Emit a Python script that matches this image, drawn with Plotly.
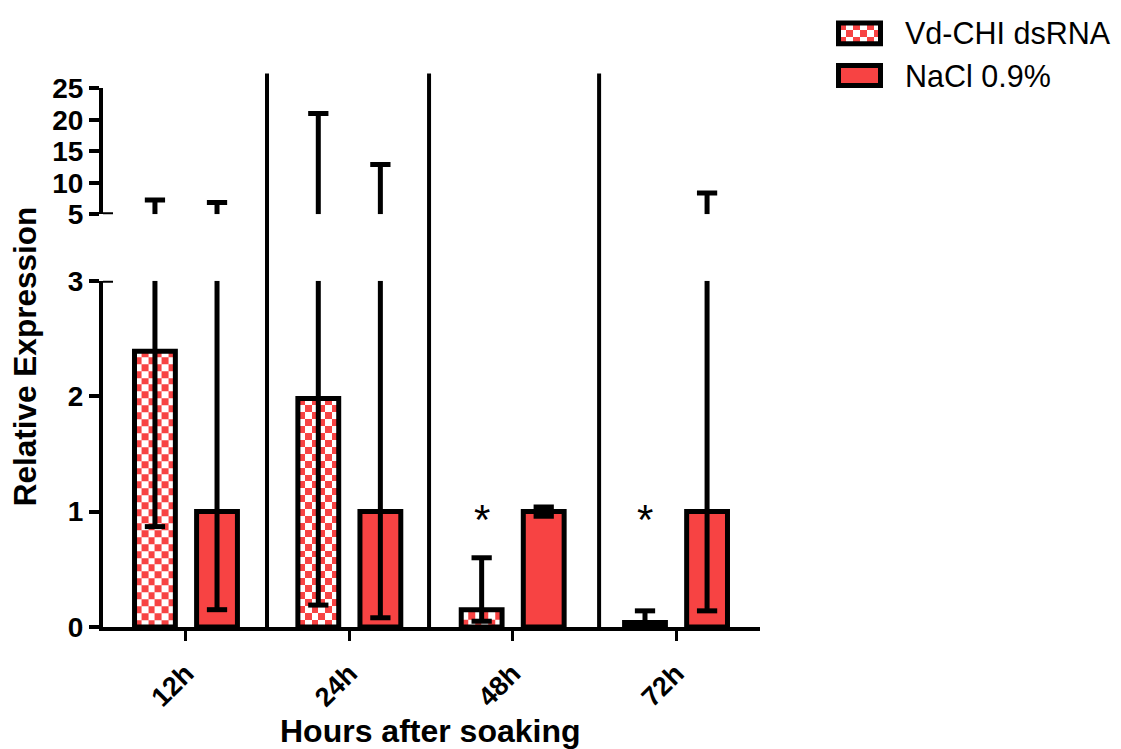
import plotly.graph_objects as go

# ---------------- data ----------------
categories = ["12h", "24h", "48h", "72h"]
dsrna_mean = [2.39, 1.98, 0.15, 0.04]
dsrna_low = [0.87, 0.19, 0.05, 0.0]
dsrna_high = [7.3, 21.0, 0.60, 0.14]
nacl_mean = [1.0, 1.0, 1.0, 1.0]
nacl_low = [0.15, 0.08, 0.96, 0.14]
nacl_high = [6.9, 12.9, 1.04, 8.4]
significance = ["", "", "*", "*"]
lower_ticks = [0, 1, 2, 3]
upper_ticks = [5, 10, 15, 20, 25]
separators = [0.496, 1.488, 2.529]

# ---------------- style ----------------
RED = "#F74343"
FONT = "Liberation Sans, Arial, sans-serif"
OFF = 0.19
BW = 0.25
CAP = 0.062
LOW_MAX, UP_MIN = 3, 5
CELL_Y = 0.06
NCOL = 6

# plot geometry (pixels -> paper)
W, H = 1121, 749
ML, MR, MT, MB = 103, 0, 10, 122
PW, PH = W - ML - MR, H - MT - MB
def px(x):
    return (x - ML) / PW
def py(y):
    return (H - MB - y) / PH

xg = list(range(len(categories)))
x_ds = [g - OFF for g in xg]
x_na = [g + OFF for g in xg]

fig = go.Figure()

# checkerboard fill for dsRNA bars (heatmaps drawn below bars)
for xc, m in zip(x_ds, dsrna_mean):
    nrow = max(1, int(round(m / CELL_Y)))
    xe = [xc - BW / 2 + BW * i / NCOL for i in range(NCOL + 1)]
    ye = [min(m, CELL_Y * j) for j in range(nrow + 1)]
    ye[-1] = m
    z = [[(i + j) % 2 for i in range(NCOL)] for j in range(nrow)]
    fig.add_trace(go.Heatmap(x=xe, y=ye, z=z, zmin=0, zmax=1,
                             colorscale=[[0, RED], [1, "white"]],
                             showscale=False, hoverinfo="skip",
                             xaxis="x", yaxis="y"))

fig.add_trace(go.Bar(x=x_ds, y=dsrna_mean, width=BW, name="Vd-CHI dsRNA",
                     marker=dict(color="rgba(0,0,0,0)",
                                 line=dict(color="black", width=5)),
                     xaxis="x", yaxis="y", showlegend=False))
fig.add_trace(go.Bar(x=x_na, y=nacl_mean, width=BW, name="NaCl 0.9%",
                     marker=dict(color=RED, line=dict(color="black", width=5)),
                     xaxis="x", yaxis="y", showlegend=False))

# error bars, split over the broken axis
lx, ly, ux, uy = [], [], [], []
for xs, lo, hi in ((x_ds, dsrna_low, dsrna_high), (x_na, nacl_low, nacl_high)):
    for xc, a, b in zip(xs, lo, hi):
        lx += [xc, xc, None]
        ly += [a, min(b, LOW_MAX), None]
        lx += [xc - CAP, xc + CAP, None]
        ly += [a, a, None]
        if b <= LOW_MAX:
            lx += [xc - CAP, xc + CAP, None]
            ly += [b, b, None]
        if b > UP_MIN:
            ux += [xc, xc, None, xc - CAP, xc + CAP, None]
            uy += [UP_MIN, b, None, b, b, None]

fig.add_trace(go.Scatter(x=lx, y=ly, mode="lines", line=dict(color="black", width=5),
                         xaxis="x", yaxis="y", showlegend=False, hoverinfo="skip",
                         cliponaxis=False))
fig.add_trace(go.Scatter(x=ux, y=uy, mode="lines", line=dict(color="black", width=5),
                         xaxis="x", yaxis="y2", showlegend=False, hoverinfo="skip",
                         cliponaxis=False))

# legend checker swatch
fig.add_trace(go.Heatmap(z=[[(i + j) % 2 for i in range(6)] for j in range(3)],
                         zmin=0, zmax=1, colorscale=[[0, RED], [1, "white"]],
                         showscale=False, hoverinfo="skip", xaxis="x3", yaxis="y3"))

tickfont = dict(family=FONT, size=28, color="black", weight="bold")
axis_common = dict(showline=True, linecolor="black", linewidth=4, ticks="outside",
                   ticklen=10, tickwidth=4, tickcolor="black", showgrid=False,
                   zeroline=False, tickfont=tickfont)

fig.update_layout(
    width=W, height=H, margin=dict(l=ML, r=MR, t=MT, b=MB),
    paper_bgcolor="white", plot_bgcolor="rgba(0,0,0,0)",
    barmode="overlay", showlegend=False,
    xaxis=dict(domain=[0, px(760)], range=[-0.508, 3.514], anchor="y",
               tickvals=xg, ticktext=categories, tickangle=-45,
               showline=True, linecolor="black", linewidth=4, ticks="outside",
               ticklen=10, tickwidth=3, tickcolor="black", showgrid=False,
               ticklabelstandoff=6,
               zeroline=False, tickfont=dict(family=FONT, size=27, color="black", weight="bold")),
    yaxis=dict(domain=[0, py(278)], range=[0, LOW_MAX], anchor="x",
               tickvals=lower_ticks, **axis_common),
    yaxis2=dict(domain=[py(211), py(84)], range=[UP_MIN, 25], anchor="x",
                tickvals=upper_ticks, **axis_common),
    xaxis3=dict(domain=[px(838.5), px(880.5)], visible=False, anchor="y3",
                range=[-0.5, 5.5]),
    yaxis3=dict(domain=[py(39), py(18)], visible=False, anchor="x3",
                range=[-0.5, 2.5]),
)

shapes = []
for s in separators:
    shapes.append(dict(type="line", xref="x", yref="paper", x0=s, x1=s,
                       y0=0, y1=py(69), line=dict(color="black", width=4)))
# break marks
shapes.append(dict(type="line", xref="paper", yref="y", x0=0, x1=10 / PW,
                   y0=LOW_MAX, y1=LOW_MAX, line=dict(color="black", width=4)))
shapes.append(dict(type="line", xref="paper", yref="y2", x0=0, x1=10 / PW,
                   y0=UP_MIN, y1=UP_MIN, line=dict(color="black", width=4)))
# legend swatches
shapes.append(dict(type="rect", xref="paper", yref="paper", x0=px(838.5), x1=px(880.5),
                   y0=py(39), y1=py(18), line=dict(color="black", width=5),
                   fillcolor="rgba(0,0,0,0)"))
shapes.append(dict(type="rect", xref="paper", yref="paper", x0=px(838.5), x1=px(880.5),
                   y0=py(81), y1=py(61), line=dict(color="black", width=5),
                   fillcolor=RED))
fig.update_layout(shapes=shapes)

ann = []
for xc, s in zip(x_ds, significance):
    if s:
        ann.append(dict(x=xc, y=0.93, xref="x", yref="y", text=s, showarrow=False,
                        font=dict(family=FONT, size=42, color="black")))
ann.append(dict(x=px(903), y=py(28), xref="paper", yref="paper", text="Vd-CHI dsRNA",
                showarrow=False, xanchor="left", yanchor="middle",
                font=dict(family=FONT, size=30.5, color="black")))
ann.append(dict(x=px(903), y=py(71), xref="paper", yref="paper", text="NaCl 0.9%",
                showarrow=False, xanchor="left", yanchor="middle",
                font=dict(family=FONT, size=30.5, color="black")))
ann.append(dict(x=px(25), y=py(355), xref="paper", yref="paper", text="Relative Expression",
                showarrow=False, textangle=-90, xanchor="center", yanchor="middle",
                font=dict(family=FONT, size=31.5, color="black", weight="bold")))
ann.append(dict(x=px(430), y=py(732), xref="paper", yref="paper", text="Hours after soaking",
                showarrow=False, xanchor="center", yanchor="middle",
                font=dict(family=FONT, size=32, color="black", weight="bold")))
fig.update_layout(annotations=ann)

fig.write_html("out.html")
